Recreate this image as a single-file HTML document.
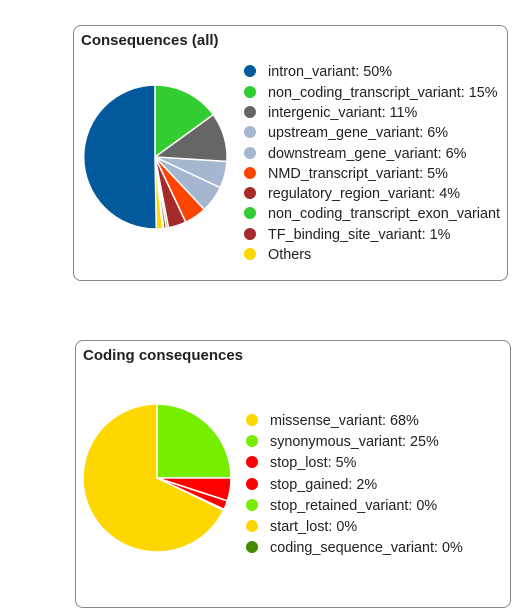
<!DOCTYPE html>
<html><head><meta charset="utf-8"><style>
body{margin:0;background:#fff;width:526px;height:612px;overflow:hidden;font-family:"Liberation Sans",Arial,sans-serif;}
.box{position:absolute;border:1px solid #888;border-radius:8px;background:#fff;}
.t{position:absolute;font-weight:bold;font-size:15px;color:#222;}
svg{position:absolute;left:0;top:0;}
svg text{font-family:"Liberation Sans",Arial,sans-serif;font-size:14.4px;fill:#222;}
</style></head><body>
<div class="box" style="left:73px;top:25px;width:433px;height:254px"></div>
<div class="t" style="left:81px;top:32px">Consequences (all)</div>
<div class="box" style="left:75px;top:340px;width:434px;height:266px"></div>
<div class="t" style="left:83px;top:347px">Coding consequences</div>
<svg width="526" height="612" viewBox="0 0 526 612">
<g stroke="#fff" stroke-width="1.5">
<path d="M155,157 L155,85 A72,72 0 0 1 213.3,114.7 Z" fill="#33cc33"/>
<path d="M155,157 L213.3,114.7 A72,72 0 0 1 226.9,161.5 Z" fill="#666666"/>
<path d="M155,157 L226.9,161.5 A72,72 0 0 1 220.2,187.7 Z" fill="#a5b6cf"/>
<path d="M155,157 L220.2,187.7 A72,72 0 0 1 204.3,209.5 Z" fill="#a5b6cf"/>
<path d="M155,157 L204.3,209.5 A72,72 0 0 1 185.7,222.2 Z" fill="#ff4500"/>
<path d="M155,157 L185.7,222.2 A72,72 0 0 1 168.5,227.7 Z" fill="#a52a2a"/>
<path d="M155,157 L168.5,227.7 A72,72 0 0 1 166.3,228.1 Z" fill="#33cc33"/>
<path d="M155,157 L166.3,228.1 A72,72 0 0 1 163.8,228.5 Z" fill="#a52a2a"/>
<path d="M155,157 L162.5,228.6 A72,72 0 0 1 156.3,229 Z" fill="#ffd700"/>
<path d="M155,157 L156.3,229 A72,72 0 0 1 155,85 Z" fill="#02599c"/>
<path d="M157,478 L157,404 A74,74 0 0 1 231,478 Z" fill="#76ee00"/>
<path d="M157,478 L231,478 A74,74 0 0 1 227.4,500.9 Z" fill="#ff0000"/>
<path d="M157,478 L227.4,500.9 A74,74 0 0 1 224.1,509.3 Z" fill="#ff0000"/>
<path d="M157,478 L223.5,510.4 A74,74 0 1 1 157,404 Z" fill="#ffd700"/>
</g>
<g>
<circle cx="250" cy="71" r="6" fill="#02599c"/><text x="268" y="76">intron_variant: 50%</text>
<circle cx="250" cy="92" r="6" fill="#33cc33"/><text x="268" y="97">non_coding_transcript_variant: 15%</text>
<circle cx="250" cy="112" r="6" fill="#666666"/><text x="268" y="117">intergenic_variant: 11%</text>
<circle cx="250" cy="132" r="6" fill="#a5b6cf"/><text x="268" y="137">upstream_gene_variant: 6%</text>
<circle cx="250" cy="153" r="6" fill="#a5b6cf"/><text x="268" y="158">downstream_gene_variant: 6%</text>
<circle cx="250" cy="173" r="6" fill="#ff4500"/><text x="268" y="178">NMD_transcript_variant: 5%</text>
<circle cx="250" cy="193" r="6" fill="#a52a2a"/><text x="268" y="198">regulatory_region_variant: 4%</text>
<circle cx="250" cy="213" r="6" fill="#33cc33"/><text x="268" y="218">non_coding_transcript_exon_variant</text>
<circle cx="250" cy="234" r="6" fill="#a52a2a"/><text x="268" y="239">TF_binding_site_variant: 1%</text>
<circle cx="250" cy="254" r="6" fill="#ffd700"/><text x="268" y="259">Others</text>
<circle cx="252" cy="420" r="6" fill="#ffd700"/><text x="270" y="425">missense_variant: 68%</text>
<circle cx="252" cy="441" r="6" fill="#76ee00"/><text x="270" y="446">synonymous_variant: 25%</text>
<circle cx="252" cy="462" r="6" fill="#ff0000"/><text x="270" y="467">stop_lost: 5%</text>
<circle cx="252" cy="484" r="6" fill="#ff0000"/><text x="270" y="489">stop_gained: 2%</text>
<circle cx="252" cy="505" r="6" fill="#76ee00"/><text x="270" y="510">stop_retained_variant: 0%</text>
<circle cx="252" cy="526" r="6" fill="#ffd700"/><text x="270" y="531">start_lost: 0%</text>
<circle cx="252" cy="547" r="6" fill="#458b00"/><text x="270" y="552">coding_sequence_variant: 0%</text>
</g>
</svg>
</body></html>
